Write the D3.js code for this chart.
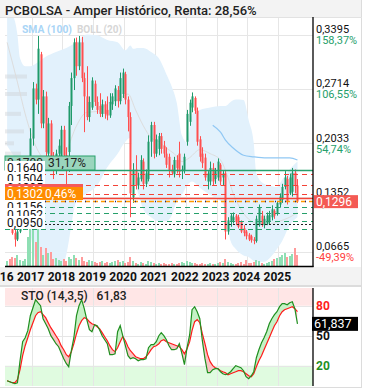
<!DOCTYPE html>
<html>
<head>
<meta charset="utf-8">
<script src="https://cdn.jsdelivr.net/npm/d3@7"></script>
<style>
  body { margin: 0; background: #fff; }
  svg { display: block; font-family: Roboto, "Noto Sans", sans-serif; }
</style>
</head>
<body>
<div id="display"></div>
<script>
let w = 367;
let h = 390;

// monthly candles, the first one is March 2016
const firstMonth = '2016-03';
const open = [
  .100,.101,.097,.090,.082,.092,.096,.100,.106,.168,.209,.272,.258,.315,.228,.262,.190,.228,.178,.170,
  .190,.186,.220,.188,.192,.250,.285,.330,.300,.330,.285,.262,.236,.248,.278,.255,.250,.240,.252,.245,
  .238,.252,.256,.270,.256,.265,.290,.258,.236,.135,.170,.150,.158,.180,.152,.158,.205,.226,.190,.196,
  .212,.200,.190,.186,.170,.164,.182,.190,.168,.168,.205,.230,.248,.260,.244,.208,.190,.185,.155,.155,
  .172,.158,.160,.176,.160,.165,.092,.104,.106,.112,.110,.104,.096,.092,.088,.086,.082,.080,.100,.112,
  .100,.102,.104,.110,.118,.114,.126,.132,.148,.158,.140,.142,.166,.150];
const high = [
  .104,.103,.099,.094,.094,.098,.102,.108,.172,.222,.280,.278,.338,.318,.270,.268,.235,.232,.192,.195,
  .208,.225,.225,.198,.255,.292,.335,.336,.338,.337,.292,.300,.262,.286,.282,.262,.266,.258,.256,.262,
  .266,.266,.276,.275,.292,.297,.293,.262,.242,.178,.188,.166,.188,.184,.170,.213,.230,.230,.214,.216,
  .216,.206,.198,.190,.176,.186,.188,.205,.175,.190,.245,.258,.267,.262,.248,.212,.198,.190,.168,.180,
  .178,.172,.184,.178,.168,.168,.110,.114,.116,.114,.113,.106,.100,.094,.090,.088,.085,.112,.126,.118,
  .112,.116,.118,.125,.120,.130,.140,.152,.168,.162,.165,.172,.170,.158];
const low = [
  .097,.095,.088,.073,.080,.090,.094,.098,.104,.165,.200,.252,.240,.222,.222,.170,.182,.170,.158,.164,
  .180,.178,.170,.145,.167,.226,.270,.288,.295,.280,.217,.232,.230,.245,.250,.240,.236,.236,.234,.232,
  .235,.245,.250,.248,.252,.260,.252,.218,.110,.128,.145,.145,.155,.145,.148,.155,.186,.184,.186,.188,
  .190,.185,.172,.160,.163,.160,.165,.160,.158,.165,.200,.225,.242,.240,.200,.180,.172,.156,.145,.150,
  .150,.152,.156,.150,.150,.082,.088,.098,.102,.100,.096,.090,.086,.082,.080,.078,.076,.078,.098,.098,
  .096,.100,.101,.106,.108,.112,.122,.128,.145,.126,.138,.136,.140,.128];
const close = [
  .101,.097,.090,.082,.092,.096,.100,.106,.168,.209,.272,.258,.322,.228,.262,.192,.228,.178,.170,.190,
  .200,.220,.188,.176,.250,.285,.330,.300,.330,.285,.262,.236,.255,.282,.255,.245,.240,.252,.240,.238,
  .255,.262,.272,.256,.285,.292,.258,.236,.140,.170,.150,.160,.182,.152,.165,.205,.226,.190,.208,.212,
  .196,.190,.176,.168,.166,.182,.172,.167,.170,.186,.240,.254,.262,.244,.205,.186,.178,.160,.165,.172,
  .155,.168,.180,.155,.165,.092,.106,.112,.110,.104,.098,.092,.090,.086,.082,.081,.080,.108,.122,.101,
  .108,.112,.113,.120,.112,.128,.136,.148,.160,.130,.160,.166,.150,.1296];
const volume = [
  6,8,10,9,12,7,6,8,30,45,40,25,38,20,12,19,14,15,8,9,
  7,6,8,6,10,8,12,9,7,10,6,5,7,6,5,4,5,6,4,5,
  4,5,6,7,5,6,4,5,10,6,4,3,5,4,3,6,5,4,3,4,
  3,4,3,3,4,3,3,4,5,4,6,5,4,4,3,3,4,3,3,4,
  3,3,4,5,4,8,5,4,3,3,4,5,3,7,4,4,5,7,6,4,
  3,4,5,6,8,9,10,12,14,10,11,13,19,12];

// stochastic (14,3,5), one value per candle
const stoK = [
  5,4,3,2,3,25,44,48,55,70,78,86,83,80,67,62,57,50,46,42,
  39,33,27,22,19,35,48,70,80,86,77,66,56,54,61,60,56,50,46,42,
  31,31,32,54,60,50,40,30,27,28,27,25,26,26,27,38,41,41,44,50,
  53,50,46,40,36,36,37,42,32,21,38,51,76,79,74,67,45,27,13,13,
  16,17,17,14,12,11,12,14,17,20,19,18,15,9,7,10,14,28,36,43,
  48,54,62,67,71,74,79,82,82,81,83,84,77,61.837];
const stoD = [
  5,4,3,3,6,16,30,40,48,56,63,70,73,74,71,68,63,58,54,50,
  46,40,36,31,29,34,42,52,60,65,68,67,64,62,61,59,57,53,49,45,
  40,36,34,38,44,49,45,39,35,32,29,28,27,27,29,32,36,39,40,42,
  45,46,44,43,42,41,40,39,36,32,37,44,55,64,66,63,52,42,31,24,
  20,18,17,15,14,13,11,12,13,14,15,15,14,12,10,9,12,19,25,30,
  36,42,48,54,60,64,70,74,76,77,78,79,77,74];

// Bollinger (20)
const bollMonths = ['2016-03','2016-05','2016-07','2016-08','2016-10','2016-12','2017-03','2017-06',
  '2017-10','2018-02','2018-06','2018-10','2019-02','2019-06','2019-10','2020-01','2020-03','2020-04',
  '2020-06','2020-08','2020-11','2021-02','2021-05','2021-07','2021-09','2021-11','2022-01','2022-03',
  '2022-06','2022-10','2023-02','2023-04','2023-06','2023-08','2023-11','2024-01','2024-03','2024-04',
  '2024-07','2024-09','2024-12','2025-02','2025-05','2025-08'];
const bollUpper = [.37,.365,.34,.31,.30,.30,.305,.312,.318,.323,.33,.34,.339,.333,.33,.32,.326,.322,
  .323,.323,.318,.31,.29,.275,.254,.213,.204,.24,.245,.248,.25,.25,.255,.258,.2575,.232,.203,.165,
  .152,.15,.148,.157,.17,.18];
const bollLower = [.20,.19,.18,.17,.14,.09,.04,.02,.026,.063,.13,.14,.15,.173,.19,.205,.21,.17,
  .14,.12,.11,.105,.105,.112,.13,.138,.15,.155,.147,.138,.13,.12,.08,.07,.062,.06,.055,.054,
  .054,.058,.07,.08,.10,.11];
const bollMidMonths = ['2016-03','2016-07','2016-10','2017-02','2017-06','2017-10','2018-02','2018-06',
  '2018-10','2019-02','2019-06','2019-10','2020-02','2020-05','2020-08','2020-11','2021-02','2021-05',
  '2021-08','2021-11','2022-02','2022-06','2022-10','2023-02','2023-05','2023-07','2023-10','2024-02',
  '2024-06','2024-10','2025-01','2025-05','2025-08'];
const bollMid = [.33,.28,.24,.20,.18,.172,.193,.225,.242,.243,.253,.258,.265,.245,.225,.21,.205,.197,
  .19,.18,.185,.195,.19,.182,.16,.14,.12,.105,.101,.102,.105,.11,.116];

// SMA (100)
const smaMonths = ['2022-11','2023-02','2023-04','2023-07','2023-11','2024-03','2024-08','2025-01','2025-05','2025-08'];
const sma100 = [.2258,.217,.207,.197,.188,.186,.1846,.1846,.1846,.182];

// levels drawn across the chart
const greenSolid = 0.1700;
const redDashed = [0.1640, 0.1504, 0.1395];
const redSolid = 0.1346;
const orangeLevel = 0.1302;
const greenDashed = [0.1229, 0.1156, 0.1052, 0.0950];
const blackDotted = 0.1020;
const lastPrice = 0.1296;
const labelled = [0.1640, 0.1504, 0.1395, 0.1156, 0.1052, 0.0950];

const yearTicks = ['2016','2017','2018','2019','2020','2021','2022','2023','2024','2025'];
const priceTicks = [0.3395, 0.2714, 0.2033, 0.1352, 0.0665];
const priceTickPct = ['158,37%', '106,55%', '54,74%', '2,89%', '-49,39%'];
const stoLevels = [80, 50, 20];

// faded tooltip left over at the top left (rows of the blurred box)
const ghostRows = [0.287, 0.265, 0.240, 0.218, 0.203, 0.190];

const es = d3.formatLocale({decimal: ',', thousands: '.', grouping: [3], currency: ['', '€']});
const f4 = es.format('.4f');

const parseMonth = d3.timeParse('%Y-%m');
const midMonth = (d) => d3.timeDay.offset(d, 15);
const start = parseMonth(firstMonth);
const candles = close.map((c, i) => {
  let d = d3.timeMonth.offset(start, i);
  return {date: midMonth(d), o: open[i], h: high[i], l: low[i], c: c, v: volume[i], k: stoK[i], dd: stoD[i]};
});

const left = 5, right = 313;
const mainTop = 17, mainBottom = 267;
const stoTop = 288, stoBottom = 386;

let viz = d3.select('#display')
  .append('svg')
    .attr('width', w)
    .attr('height', h)
    .style('background-color', '#fff');

let xScale = d3.scaleTime()
  .domain([new Date(2016, 1, 20), new Date(2026, 1, 16)])
  .range([left, right]);
let yScale = d3.scaleLinear().domain([0.0665, 0.3395]).range([251.8, 34.8]);
let vScale = d3.scaleLinear().domain([0, d3.max(volume)]).range([mainBottom, mainBottom - 45]);
let sScale = d3.scaleLinear().domain([0, 100]).range([385.7, 285.7]);

// frame pieces
viz.append('rect').attr('x', 0).attr('y', 0).attr('width', 362).attr('height', 17).attr('fill', '#f3f3f3');
viz.append('rect').attr('x', 0).attr('y', mainBottom).attr('width', 362).attr('height', 18).attr('fill', '#f3f3f3');
viz.append('rect').attr('x', 0).attr('y', 285).attr('width', 362).attr('height', 2).attr('fill', '#dcdcdc');
viz.append('line').attr('x1', 361.5).attr('x2', 361.5).attr('y1', 0).attr('y2', 388).attr('stroke', '#dcdcdc');
viz.append('line').attr('x1', 0).attr('x2', 362).attr('y1', 387.5).attr('y2', 387.5).attr('stroke', '#dcdcdc');
viz.append('line').attr('x1', 0).attr('x2', 362).attr('y1', 17.5).attr('y2', 17.5).attr('stroke', '#e2e2e2');

viz.append('text').attr('x', 5).attr('y', 14.5)
  .attr('font-size', 13).attr('font-weight', 500).attr('fill', '#222')
  .text('PCBOLSA - Amper Histórico, Renta: 28,56%');

let defs = viz.append('defs');
defs.append('clipPath').attr('id', 'mainClip').append('rect')
  .attr('x', left).attr('y', mainTop + 1).attr('width', right - left).attr('height', mainBottom - mainTop - 1);
defs.append('clipPath').attr('id', 'stoClip').append('rect')
  .attr('x', left).attr('y', stoTop).attr('width', right - left).attr('height', stoBottom - stoTop);

// ---------- main panel ----------
let main = viz.append('g').attr('clip-path', 'url(#mainClip)');

let grid = main.append('g').attr('stroke', '#e6e6e6');
grid.selectAll('.hg').data(priceTicks).join('line')
  .attr('x1', left).attr('x2', right)
  .attr('y1', (d) => Math.round(yScale(d)) + 0.5).attr('y2', (d) => Math.round(yScale(d)) + 0.5);
grid.selectAll('.vg').data(yearTicks).join('line')
  .attr('x1', (d) => Math.round(xScale(new Date(+d, 0, 1))) + 0.5)
  .attr('x2', (d) => Math.round(xScale(new Date(+d, 0, 1))) + 0.5)
  .attr('y1', mainTop).attr('y2', mainBottom);

let boll = bollMonths.map((m, i) => ({date: midMonth(parseMonth(m)), u: bollUpper[i], l: bollLower[i]}));
main.append('path').datum(boll)
  .attr('fill', '#e2f1fc')
  .attr('d', d3.area().curve(d3.curveMonotoneX)
    .x((d) => xScale(d.date)).y0((d) => yScale(d.l)).y1((d) => yScale(d.u)));

main.append('g').selectAll('rect').data(ghostRows).join('rect')
  .attr('x', left).attr('width', (d, i) => [22, 22, 16, 19, 9, 16][i])
  .attr('y', (d) => yScale(d) - 2).attr('height', 4)
  .attr('fill', '#cfd3d6').attr('opacity', 0.45);

main.append('g').selectAll('rect').data(candles).join('rect')
  .attr('x', (d) => Math.round(xScale(d.date)) - 1)
  .attr('width', 2)
  .attr('y', (d) => vScale(d.v))
  .attr('height', (d) => mainBottom - vScale(d.v))
  .attr('fill', (d) => d.c >= d.o ? '#8fdfb4' : '#ff9b9b');

let mid = bollMidMonths.map((m, i) => ({date: midMonth(parseMonth(m)), v: bollMid[i]}));
main.append('path').datum(mid)
  .attr('fill', 'none').attr('stroke', '#dddddd').attr('stroke-width', 1)
  .attr('d', d3.line().curve(d3.curveMonotoneX).x((d) => xScale(d.date)).y((d) => yScale(d.v)));

let sma = smaMonths.map((m, i) => ({date: midMonth(parseMonth(m)), v: sma100[i]}));
main.append('path').datum(sma)
  .attr('fill', 'none').attr('stroke', '#90c8f4').attr('stroke-width', 1.2)
  .attr('d', d3.line().curve(d3.curveMonotoneX).x((d) => xScale(d.date)).y((d) => yScale(d.v)));

let cg = main.append('g');
cg.selectAll('line').data(candles).join('line')
  .attr('x1', (d) => Math.round(xScale(d.date)) + 0.5)
  .attr('x2', (d) => Math.round(xScale(d.date)) + 0.5)
  .attr('y1', (d) => yScale(d.h)).attr('y2', (d) => yScale(d.l))
  .attr('stroke', (d) => d.c >= d.o ? '#1f9a6a' : '#ff4f4f');
cg.selectAll('rect').data(candles).join('rect')
  .attr('x', (d) => Math.round(xScale(d.date)) - 0.5)
  .attr('width', 2)
  .attr('y', (d) => yScale(Math.max(d.o, d.c)))
  .attr('height', (d) => Math.max(1, Math.abs(yScale(d.o) - yScale(d.c))))
  .attr('fill', (d) => d.c >= d.o ? '#1f9a6a' : '#ff4f4f');

// levels
const hline = (v, color, dash, width) => main.append('line')
  .attr('x1', left).attr('x2', right)
  .attr('y1', Math.round(yScale(v)) + 0.5).attr('y2', Math.round(yScale(v)) + 0.5)
  .attr('stroke', color).attr('stroke-width', width || 1)
  .attr('stroke-dasharray', dash);
hline(greenSolid, '#26a06b', null, 1.3);
redDashed.forEach((v) => hline(v, '#f44336', '5,4'));
hline(redSolid, '#f44336', null, 1.3);
hline(orangeLevel, '#ff9800', '5,3', 1.3);
hline(orangeLevel, '#1a237e', '1,9', 1.3);
greenDashed.forEach((v) => hline(v, '#26a06b', '5,4'));
hline(blackDotted, '#222', '2,2');

viz.append('line').attr('x1', left).attr('x2', right + 0.5)
  .attr('y1', mainBottom - 0.5).attr('y2', mainBottom - 0.5).attr('stroke', '#000').attr('stroke-width', 1.3);
viz.append('line').attr('x1', right).attr('x2', right)
  .attr('y1', mainTop).attr('y2', mainBottom).attr('stroke', '#000').attr('stroke-width', 1.3);

// legend
viz.append('text').attr('x', 22).attr('y', 33).attr('font-size', 11.5).attr('font-weight', 700)
  .attr('textLength', 50).attr('lengthAdjust', 'spacingAndGlyphs')
  .attr('fill', '#a9d5f6').text('SMA (100)');
viz.append('text').attr('x', 77).attr('y', 33).attr('font-size', 11.5).attr('font-weight', 700)
  .attr('textLength', 45).attr('lengthAdjust', 'spacingAndGlyphs')
  .attr('fill', '#d6d6d6').text('BOLL (20)');

// left level tags
let tags = viz.append('g').attr('font-size', 12);
const ty = (v) => Math.round(yScale(v));
tags.append('rect').attr('x', left).attr('y', ty(greenSolid) - 14).attr('width', 90).attr('height', 14)
  .attr('fill', '#9ad5bd').attr('stroke', '#26a06b');
tags.append('text').attr('x', 7).attr('y', ty(greenSolid) - 3).attr('fill', '#222').text(f4(greenSolid));
tags.append('text').attr('x', 48).attr('y', ty(greenSolid) - 3).attr('fill', '#222')
  .text(es.format('.2f')((greenSolid / lastPrice - 1) * 100) + '%');
labelled.filter((v) => v > redSolid).forEach((v) => {
  tags.append('rect').attr('x', left).attr('y', ty(v) - 13).attr('width', 40).attr('height', 13).attr('fill', '#fff');
  tags.append('text').attr('x', 7).attr('y', ty(v) - 2.5).attr('fill', '#111').text(f4(v));
});
tags.append('rect').attr('x', left).attr('y', ty(redSolid) - 14).attr('width', 78).attr('height', 14).attr('fill', '#f55a5a');
tags.append('text').attr('x', 7).attr('y', ty(redSolid) - 3).attr('fill', '#fff').text(f4(redSolid));
labelled.filter((v) => v < redSolid).forEach((v) => {
  tags.append('rect').attr('x', left).attr('y', ty(v) - 13).attr('width', 40).attr('height', 13).attr('fill', '#fff');
  tags.append('text').attr('x', 7).attr('y', ty(v) - 2.5).attr('fill', '#111').text(f4(v));
});
tags.append('rect').attr('x', left).attr('y', ty(orangeLevel) - 14).attr('width', 78).attr('height', 13).attr('fill', '#ff8c00');
tags.append('text').attr('x', 7).attr('y', ty(orangeLevel) - 3.5).attr('fill', '#fff').text(f4(orangeLevel));
tags.append('text').attr('x', 45).attr('y', ty(orangeLevel) - 3.5).attr('fill', '#fff')
  .text(es.format('.2f')((orangeLevel / lastPrice - 1) * 100) + '%');

// right price axis
let ra = viz.append('g').attr('font-size', 11);
ra.selectAll('.pv').data(priceTicks).join('text')
  .attr('x', 316).attr('y', (d) => yScale(d) - 1.5).attr('fill', '#111').text((d) => f4(d));
ra.selectAll('.pp').data(priceTicks).join('text')
  .attr('x', 316).attr('y', (d) => yScale(d) + 9.5)
  .attr('fill', (d, i) => priceTickPct[i][0] === '-' ? '#ff4040' : '#26a06b')
  .text((d, i) => priceTickPct[i]);
ra.append('rect').attr('x', 314).attr('y', yScale(lastPrice) - 6.5).attr('width', 44).attr('height', 13).attr('fill', '#f45a54');
ra.append('text').attr('x', 316).attr('y', yScale(lastPrice) + 4.5).attr('font-size', 12).attr('fill', '#fff').text(f4(lastPrice));

// x axis labels
viz.append('g').selectAll('text').data(yearTicks).join('text')
  .attr('x', (d) => xScale(new Date(+d, 0, 1)) - 1)
  .attr('y', 281).attr('text-anchor', 'middle')
  .attr('font-size', 12).attr('font-weight', 700).attr('fill', '#111')
  .text((d) => d);

// ---------- stochastic panel ----------
let sto = viz.append('g').attr('clip-path', 'url(#stoClip)');
sto.append('rect').attr('x', left).attr('y', stoTop).attr('width', right - left)
  .attr('height', sScale(80) - stoTop).attr('fill', '#ffe6e6');
sto.append('rect').attr('x', left).attr('y', sScale(20)).attr('width', right - left)
  .attr('height', stoBottom - sScale(20)).attr('fill', '#e0fbe0');
let sgrid = sto.append('g').attr('stroke', '#e6e6e6');
sgrid.selectAll('.vg').data(yearTicks).join('line')
  .attr('x1', (d) => Math.round(xScale(new Date(+d, 0, 1))) + 0.5)
  .attr('x2', (d) => Math.round(xScale(new Date(+d, 0, 1))) + 0.5)
  .attr('y1', stoTop).attr('y2', stoBottom);
sgrid.selectAll('.hg').data(stoLevels).join('line')
  .attr('x1', left).attr('x2', right)
  .attr('y1', (d) => Math.round(sScale(d)) + 0.5).attr('y2', (d) => Math.round(sScale(d)) + 0.5);

defs.append('clipPath').attr('id', 'aboveD').append('path').datum(candles)
  .attr('d', d3.area().x((d) => xScale(d.date)).y0(stoTop - 5).y1((d) => sScale(d.dd)));
defs.append('clipPath').attr('id', 'belowD').append('path').datum(candles)
  .attr('d', d3.area().x((d) => xScale(d.date)).y0(stoBottom + 5).y1((d) => sScale(d.dd)));
let between = d3.area().x((d) => xScale(d.date)).y0((d) => sScale(d.dd)).y1((d) => sScale(d.k));
sto.append('path').datum(candles).attr('clip-path', 'url(#aboveD)').attr('fill', '#c6f2c6').attr('d', between);
sto.append('path').datum(candles).attr('clip-path', 'url(#belowD)').attr('fill', '#f9c4c4').attr('d', between);

sto.append('path').datum(candles).attr('fill', 'none').attr('stroke', '#ff1a1a').attr('stroke-width', 1.2)
  .attr('d', d3.line().x((d) => xScale(d.date)).y((d) => sScale(d.dd)));
sto.append('path').datum(candles).attr('fill', 'none').attr('stroke', '#1f8f1f').attr('stroke-width', 1.2)
  .attr('d', d3.line().x((d) => xScale(d.date)).y((d) => sScale(d.k)));

viz.append('line').attr('x1', right).attr('x2', right)
  .attr('y1', stoTop).attr('y2', stoBottom).attr('stroke', '#000').attr('stroke-width', 1.3);

let lastK = stoK[stoK.length - 1];
viz.append('text').attr('x', 21).attr('y', 299.5).attr('font-size', 12).attr('font-weight', 500).attr('fill', '#222')
  .attr('xml:space', 'preserve')
  .text('STO (14,3,5)   ' + es.format('.2f')(Math.floor(lastK * 100) / 100));

viz.append('g').selectAll('text').data(stoLevels).join('text')
  .attr('x', 316).attr('y', (d) => sScale(d) + 4.5)
  .attr('font-size', 12).attr('font-weight', 700)
  .attr('fill', (d) => d === 80 ? '#ff2020' : d === 20 ? '#1f8f1f' : '#111')
  .text((d) => d);
viz.append('rect').attr('x', 312).attr('y', sScale(lastK) - 7).attr('width', 46).attr('height', 14).attr('fill', '#000');
viz.append('text').attr('x', 314).attr('y', sScale(lastK) + 4.5).attr('font-size', 12.5).attr('fill', '#fff')
  .text(es.format('.3f')(lastK));
</script>
</body>
</html>
